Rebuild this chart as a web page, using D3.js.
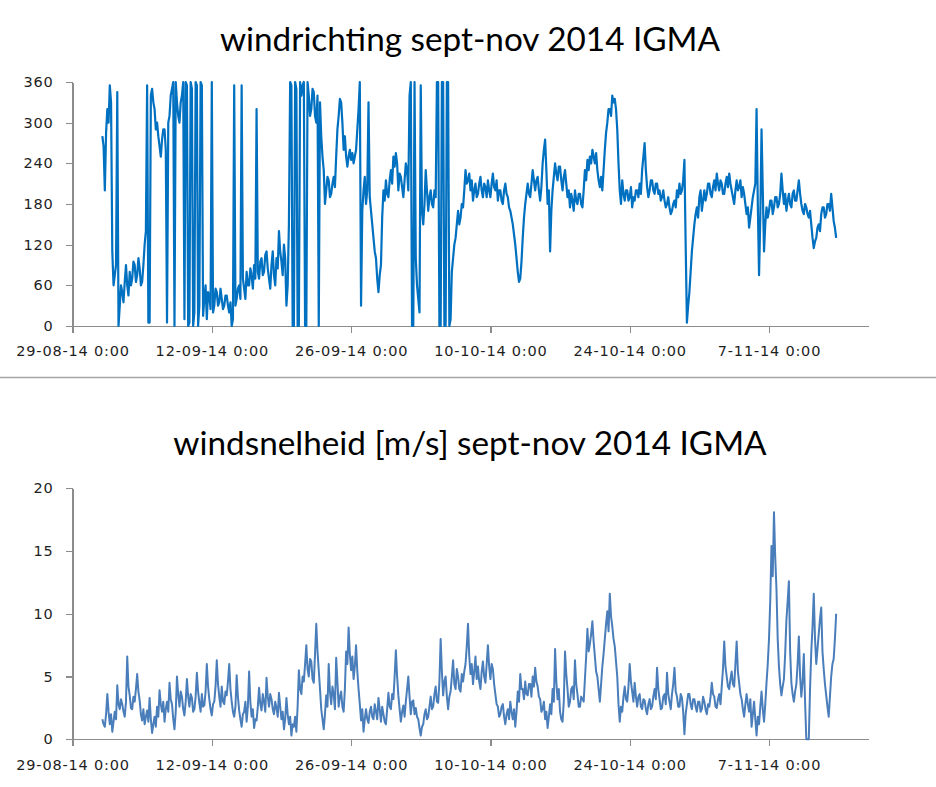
<!DOCTYPE html>
<html>
<head>
<meta charset="utf-8">
<script src="https://cdn.jsdelivr.net/npm/d3@7"></script>
<style>
  body { margin: 0; background: #fff; }
  svg { display: block; }
  .axis path, .axis line { stroke: #8c8c8c; stroke-width: 1.2; shape-rendering: crispEdges; }
  .axis text { font-family: "DejaVu Sans", sans-serif; font-size: 14.5px; letter-spacing: 0.8px; fill: #1e1e1e; }
  .title { font-family: Lato, sans-serif; fill: #000; text-anchor: middle; }
</style>
</head>
<body>
<svg class="Chart" width="936" height="787"></svg>
<script>
// meetreeks start 1 sept 2014 0:00, elke 3 uur een waarde
const startDate = new Date(Date.UTC(2014, 8, 1, 0, 0));
const stepHours = 3;
const axisDates = [new Date(Date.UTC(2014, 7, 29)), new Date(Date.UTC(2014, 10, 17))];
const xTickDates = [
    new Date(Date.UTC(2014, 7, 29)), new Date(Date.UTC(2014, 8, 12)), new Date(Date.UTC(2014, 8, 26)),
    new Date(Date.UTC(2014, 9, 10)), new Date(Date.UTC(2014, 9, 24)), new Date(Date.UTC(2014, 10, 7))
];
const directionTicks = [0, 60, 120, 180, 240, 300, 360];
const speedTicks = [0, 5, 10, 15, 20];
const directionTitle = "windrichting sept-nov 2014 IGMA";
const speedTitle = "windsnelheid [m/s] sept-nov 2014 IGMA";

// windrichting [graden]
const windDirection = [
    280, 265, 200, 285, 320, 300, 355, 330, 110, 60,
    75, 90, 345, 0, 30, 60, 50, 35, 65, 90,
    60, 45, 80, 60, 70, 95, 90, 65, 75, 100,
    85, 60, 65, 90, 120, 140, 355, 5, 5, 340,
    350, 330, 320, 290, 300, 280, 265, 250, 275, 290,
    290, 260, 5, 300, 310, 340, 350, 360, 0, 360,
    330, 310, 300, 330, 340, 360, 10, 360, 355, 0,
    5, 360, 350, 0, 20, 360, 355, 0, 30, 360,
    355, 15, 40, 60, 10, 50, 45, 25, 360, 20,
    30, 55, 50, 30, 35, 55, 40, 25, 30, 45,
    45, 30, 20, 35, 0, 10, 355, 30, 40, 55,
    60, 40, 355, 70, 55, 40, 80, 60, 60, 85,
    75, 55, 90, 70, 320, 80, 70, 95, 100, 75,
    80, 105, 110, 85, 70, 55, 90, 110, 75, 60,
    100, 85, 140, 110, 95, 75, 120, 100, 30, 60,
    150, 360, 355, 0, 0, 360, 350, 0, 0, 360,
    340, 355, 360, 0, 0, 360, 340, 310, 320, 350,
    345, 310, 300, 340, 0, 330, 280, 250, 230, 180,
    200, 220, 215, 190, 195, 210, 220, 205, 250, 290,
    310, 335, 330, 300, 260, 280, 250, 235, 250, 260,
    245, 255, 240, 250, 260, 290, 320, 360, 30, 170,
    200, 220, 180, 200, 330, 190, 170, 150, 130, 110,
    100, 70, 50, 75, 90, 160, 200, 185, 215, 195,
    190, 215, 230, 210, 250, 235, 255, 240, 200, 225,
    220, 205, 190, 215, 240, 230, 200, 340, 360, 0,
    0, 360, 100, 60, 40, 20, 355, 170, 150, 180,
    230, 200, 170, 190, 200, 180, 175, 200, 190, 360,
    360, 0, 0, 360, 360, 0, 0, 360, 360, 0,
    10, 80, 100, 120, 130, 150, 170, 150, 160, 180,
    175, 200, 230, 210, 215, 225, 200, 215, 185, 200,
    210, 190, 195, 210, 220, 200, 190, 210, 205, 190,
    215, 200, 190, 210, 225, 205, 200, 215, 185, 200,
    200, 185, 180, 200, 210, 195, 190, 175, 170, 160,
    150, 135, 120, 100, 80, 65, 70, 95, 130, 160,
    180, 195, 210, 195, 190, 210, 230, 215, 200, 215,
    220, 200, 185, 205, 240, 260, 275, 230, 180, 200,
    110, 170, 200, 220, 240, 225, 215, 235, 235, 215,
    200, 220, 230, 210, 190, 200, 175, 195, 185, 170,
    200, 185, 180, 195, 195, 180, 175, 200, 230, 215,
    245, 230, 250, 240, 260, 250, 240, 255, 230, 215,
    205, 220, 200, 230, 260, 285, 300, 320, 320, 310,
    340, 330, 335, 320, 290, 240, 200, 180, 215, 195,
    185, 200, 200, 185, 190, 205, 175, 190, 185, 200,
    200, 190, 210, 195, 230, 250, 270, 230, 205, 190,
    200, 215, 215, 200, 195, 210, 210, 195, 200, 185,
    190, 200, 185, 175, 180, 190, 175, 165, 170, 180,
    185, 175, 200, 190, 210, 195, 200, 215, 245, 120,
    5, 30, 50, 80, 110, 130, 150, 165, 175, 160,
    190, 200, 170, 185, 200, 185, 195, 210, 210, 195,
    190, 205, 215, 200, 225, 210, 200, 215, 210, 195,
    195, 210, 220, 205, 225, 210, 200, 190, 180, 200,
    215, 200, 205, 215, 190, 205, 195, 180, 165, 175,
    145, 160, 175, 190, 200, 210, 320, 180, 75, 160,
    290, 200, 110, 150, 175, 160, 170, 185, 185, 165,
    175, 190, 190, 175, 180, 195, 225, 200, 180, 195,
    170, 185, 195, 180, 175, 195, 200, 185, 185, 200,
    215, 195, 180, 170, 165, 180, 175, 165, 160, 170,
    150, 130, 115, 125, 130, 145, 150, 140, 165, 175,
    175, 160, 165, 180, 180, 170, 195, 175, 155, 145,
    130
];

// windsnelheid [m/s]
const windSpeed = [
    1.6, 1.2, 1.0, 2.0, 3.6, 2.2, 1.2, 2.0, 0.6, 1.4,
    2.2, 1.6, 4.3, 2.8, 2.4, 3.2, 2.8, 2.2, 1.8, 3.0,
    6.6, 4.2, 3.5, 2.5, 2.4, 3.4, 3.0, 4.0, 5.2, 3.8,
    3.1, 2.0, 1.5, 2.4, 1.2, 1.8, 2.3, 1.4, 3.3, 1.6,
    0.5, 1.2, 1.8, 1.0, 2.6, 1.8, 3.9, 2.8, 2.2, 3.0,
    1.4, 2.4, 3.0, 2.2, 4.5, 3.2, 2.8, 1.6, 0.8, 2.2,
    5.0, 3.6, 2.6, 3.8, 3.4, 2.4, 1.9, 3.0, 4.8, 3.4,
    2.6, 3.6, 3.3, 2.2, 2.4, 3.4, 5.3, 3.8, 2.9, 2.2,
    3.6, 2.6, 2.7, 3.8, 6.0, 4.2, 3.2, 2.4, 1.9, 2.8,
    3.0, 4.2, 6.3, 4.4, 3.4, 2.6, 4.2, 3.0, 2.8, 3.8,
    3.5, 4.6, 6.0, 4.0, 3.0, 2.2, 1.8, 2.6, 5.1, 3.4,
    2.3, 1.6, 1.0, 2.0, 2.2, 3.0, 1.4, 2.6, 5.4, 3.0,
    1.8, 2.4, 0.9, 1.6, 1.5, 2.6, 4.1, 2.8, 2.3, 3.6,
    3.0, 2.2, 4.9, 3.4, 2.6, 3.6, 3.2, 2.4, 2.0, 3.0,
    2.5, 1.8, 3.7, 2.6, 1.6, 2.2, 0.8, 1.6, 3.3, 2.0,
    1.2, 1.8, 0.3, 1.2, 1.0, 1.8, 0.6, 2.6, 5.5, 4.0,
    3.6, 5.0, 4.6, 6.0, 7.5, 5.6, 5.0, 6.4, 6.2, 4.8,
    4.5, 6.8, 9.2, 7.0, 5.5, 4.0, 2.4, 1.6, 0.8, 2.0,
    3.5, 2.6, 6.0, 3.8, 2.8, 4.2, 3.6, 2.4, 6.5, 4.6,
    2.6, 3.4, 3.8, 2.6, 2.2, 4.0, 7.0, 6.0, 8.9, 6.8,
    5.5, 6.6, 4.8, 5.8, 7.5, 5.4, 4.0, 2.8, 1.5, 2.4,
    0.6, 1.6, 2.4, 1.6, 1.3, 2.2, 2.6, 1.8, 1.6, 2.8,
    2.2, 1.6, 3.3, 2.4, 1.4, 2.6, 2.0, 1.4, 1.2, 2.4,
    3.7, 2.6, 2.4, 3.6, 3.2, 5.0, 7.1, 5.0, 3.5, 2.4,
    1.4, 2.2, 2.7, 1.8, 3.0, 4.0, 5.0, 3.4, 2.0, 3.0,
    3.1, 2.0, 2.5, 1.8, 1.6, 0.9, 0.3, 1.0, 1.2, 2.0,
    2.4, 1.6, 1.8, 2.6, 3.4, 2.4, 2.6, 3.6, 4.2, 3.0,
    2.9, 4.6, 8.0, 5.4, 3.5, 4.6, 5.0, 3.4, 2.4, 3.4,
    3.8, 5.0, 6.3, 4.4, 4.0, 5.6, 5.0, 4.0, 3.8, 5.2,
    4.6, 5.4, 6.0, 7.4, 9.2, 6.6, 5.2, 6.0, 4.4, 5.4,
    6.6, 4.8, 5.8, 4.6, 4.0, 5.4, 6.2, 5.0, 4.5, 6.0,
    7.5, 5.8, 4.8, 6.0, 5.6, 4.4, 3.6, 2.8, 2.6, 1.8,
    2.0, 2.6, 2.8, 1.8, 1.2, 2.0, 2.4, 1.6, 3.0, 2.2,
    1.6, 2.4, 1.0, 2.2, 3.8, 3.0, 5.2, 4.0, 4.0, 3.2,
    4.6, 3.6, 3.5, 4.4, 4.4, 3.4, 5.0, 4.2, 5.7, 4.6,
    4.2, 3.4, 3.2, 2.2, 2.4, 3.0, 1.6, 2.2, 0.9, 1.8,
    2.8, 2.0, 4.0, 3.0, 7.2, 4.6, 3.2, 4.0, 2.2, 1.6,
    1.4, 3.0, 7.0, 5.2, 4.0, 2.6, 3.0, 4.0, 4.2, 3.2,
    6.3, 4.4, 3.6, 2.6, 2.6, 3.4, 3.2, 3.0, 4.8, 6.6,
    8.8, 7.0, 7.6, 8.4, 9.4, 7.8, 6.6, 5.4, 5.0, 4.0,
    3.0, 4.4, 5.8, 6.8, 8.0, 9.2, 10.2, 8.6, 11.6, 9.8,
    9.0, 8.0, 7.4, 6.2, 5.0, 2.8, 1.4, 2.6, 2.2, 3.4,
    4.2, 3.2, 3.0, 4.2, 6.0, 4.6, 3.8, 3.0, 4.5, 3.4,
    2.6, 3.4, 3.6, 2.6, 2.4, 3.2, 3.1, 2.4, 2.0, 2.8,
    3.2, 2.4, 2.6, 3.4, 4.0, 3.2, 5.7, 4.0, 3.2, 2.4,
    2.5, 3.4, 3.6, 2.8, 5.3, 3.6, 3.0, 2.4, 3.6, 4.4,
    5.7, 3.8, 3.4, 2.6, 2.6, 3.6, 3.3, 2.2, 0.4, 2.0,
    2.8, 3.6, 3.6, 2.8, 2.4, 3.2, 3.2, 2.6, 2.2, 3.0,
    3.0, 2.2, 2.4, 3.4, 3.0, 2.4, 2.0, 2.8, 2.6, 3.4,
    4.5, 3.6, 3.4, 2.6, 2.5, 3.2, 3.6, 2.8, 4.2, 5.6,
    7.8, 5.8, 5.0, 4.2, 4.0, 4.8, 5.4, 4.4, 4.2, 6.0,
    7.8, 5.4, 4.5, 3.6, 3.2, 2.4, 1.8, 2.8, 3.6, 2.8,
    2.2, 3.2, 1.0, 2.0, 3.0, 1.6, 0.3, 1.8, 1.2, 2.6,
    3.8, 2.4, 1.4, 2.8, 4.5, 6.0, 8.0, 11.0, 15.4, 13.0,
    18.1, 14.5, 12.0, 8.0, 5.8, 4.4, 3.5, 4.2, 4.8, 6.8,
    9.5, 11.0, 12.6, 7.0, 4.5, 3.6, 3.0, 3.8, 4.4, 6.0,
    8.2, 5.0, 3.4, 4.6, 6.8, 3.0, 0.0, 0.0, 0.0, 4.0,
    7.0, 9.0, 11.6, 8.0, 6.0, 7.2, 8.4, 9.6, 10.5, 7.0,
    5.6, 4.4, 3.5, 2.6, 1.8, 3.4, 5.0, 6.0, 6.4, 8.0,
    10.0
];

let width = 936, height = 787;
let left = 72.5, right = 868.5;

let x = d3.scaleUtc().domain(axisDates).range([left, right]);
let timeOf = i => new Date(startDate.getTime() + i * stepHours * 3600 * 1000);
let fmt = d3.utcFormat("%-d-%m-%y %-H:%M");

function drawPanel(svg, values, yDomain, yRange, ticks, color, lineWidth, title, titleY){
    let y = d3.scaleLinear().domain(yDomain).range(yRange);
    let g = svg.append("g");

    g.append("text")
        .attr("class", "title")
        .attr("x", 470)
        .attr("y", titleY)
        .attr("font-size", 33.3)
        .text(title);

    g.append("g")
        .attr("class", "axis")
        .attr("transform", "translate(" + left + ",0)")
        .call(d3.axisLeft(y).tickValues(ticks).tickSize(7).tickSizeOuter(0).tickPadding(12));

    g.append("g")
        .attr("class", "axis")
        .attr("transform", "translate(0," + y(0) + ")")
        .call(d3.axisBottom(x).tickValues(xTickDates).tickFormat(fmt).tickSize(7).tickSizeOuter(0).tickPadding(13));

    let line = d3.line()
        .x((d, i) => x(timeOf(i)))
        .y(d => y(d));

    g.append("path")
        .datum(values)
        .attr("fill", "none")
        .attr("stroke", color)
        .attr("stroke-width", lineWidth)
        .attr("stroke-linejoin", "round")
        .attr("d", line);
}

let svg = d3.select(".Chart")
    .attr("width", width)
    .attr("height", height);

drawPanel(svg, windDirection, [0, 360], [326, 82], directionTicks, "#0070c0", 2.2, directionTitle, 51);

svg.append("line")
    .attr("x1", 0).attr("x2", width)
    .attr("y1", 377.5).attr("y2", 377.5)
    .attr("stroke", "#a6a6a6")
    .attr("stroke-width", 1.5);

drawPanel(svg, windSpeed, [0, 20], [739.3, 488.3], speedTicks, "#4a7ebb", 2.0, speedTitle, 455);
</script>
</body>
</html>
